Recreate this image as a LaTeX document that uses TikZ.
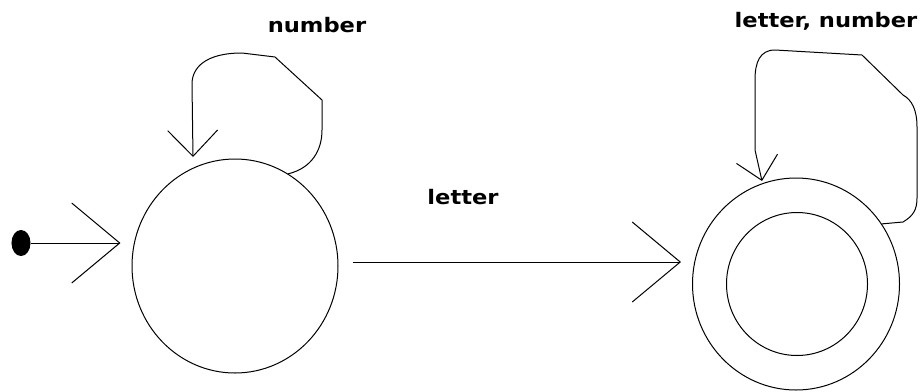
\documentclass[tikz,border=0pt]{standalone}
\usepackage{fontspec}
\newfontfamily\labfont[FakeStretch=1.13]{DejaVu Sans}
\usetikzlibrary{arrows.meta,shapes.geometric}
\begin{document}
\begin{tikzpicture}[x=1pt,y=-1pt,line width=1pt,
  state/.style={draw,ellipse,inner sep=0pt},
  lab/.style={font=\labfont\bfseries\fontsize{20}{24}\selectfont,inner sep=0pt,anchor=base},
  bigtip/.style={-{Straight Barb[length=48pt,width=80pt]}},
  looptipa/.style={-{Straight Barb[length=26pt,width=50pt]}},
  looptipb/.style={-{Straight Barb[length=22pt,width=42pt]}}]
\useasboundingbox (0,0) rectangle (923,391);
% states
\node[state,minimum width=206pt,minimum height=214pt] (q0) at (235,266) {};
\node[state,minimum width=207pt,minimum height=212pt] (q1) at (796,284) {};
\node[state,minimum width=141pt,minimum height=143pt] (q1in) at (797,284) {};
% start dot
\node[draw,fill=black,ellipse,inner sep=0pt,minimum width=18pt,minimum height=25pt] (dot) at (21,243) {};
\draw[bigtip,shorten >=11pt] (dot.east) -- (dot.east -| q0.west);
% main transition
\draw[bigtip] ([shift={(14,-4)}]q0.east) -- ([shift={(-11,-22)}]q1.west);
% self loops
\coordinate (l0end) at (193,157);
\draw[looptipa] (q0.60) .. controls (312,168) and (322,150) .. (322,130) -- (322,100) -- (275,57) -- (242,53)
  .. controls (205,53) and (192,68) .. (192,84) -- (l0end);
\coordinate (l1end) at (762,181);
\draw[looptipb] (q1.35) -- (903,222) .. controls (913,216) and (917,210) .. (917,198) -- (917,127)
  .. controls (917,110) and (912,100) .. (903,95) -- (862,55) -- (775,50)
  .. controls (760,50) and (755,62) .. (755,80) -- (755,150) -- (l1end);
% labels
\node[lab] (lbl0) at (317,32) {number};
\node[lab] (lbl1) at (826,27) {letter, number};
\node[lab] (lbl2) at (463,204) {letter};
\end{tikzpicture}
\end{document}
